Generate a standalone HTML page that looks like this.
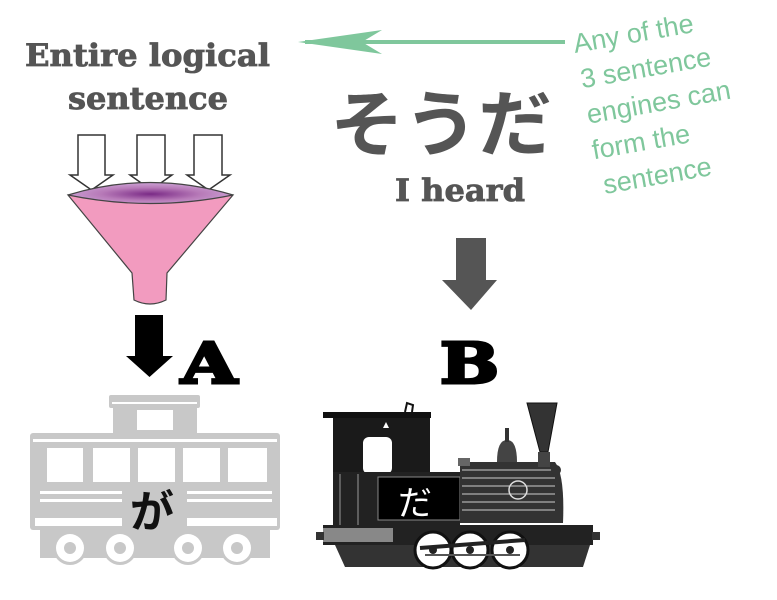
<!DOCTYPE html>
<html><head><meta charset="utf-8"><style>
html,body{margin:0;padding:0;background:#fff;}
svg{display:block;}
</style></head><body>
<svg width="777" height="600" viewBox="0 0 777 600" xmlns="http://www.w3.org/2000/svg">
<defs>
<radialGradient id="fg" cx="0.5" cy="0.55" r="0.5">
<stop offset="0" stop-color="#7a2a86"/><stop offset="0.6" stop-color="#b77ab8"/><stop offset="1" stop-color="#c99bd0"/>
</radialGradient>
</defs>
<g font-family="'DejaVu Serif','Liberation Serif',serif" font-weight="bold" fill="#555" stroke="#555" stroke-width="0.8">
<text x="25" y="66" font-size="31" textLength="245" lengthAdjust="spacingAndGlyphs">Entire logical</text>
<text x="68" y="109" font-size="31" textLength="160" lengthAdjust="spacingAndGlyphs">sentence</text>
<text x="395" y="201" font-size="31" textLength="130" lengthAdjust="spacingAndGlyphs">I heard</text>
</g>
<text x="330" y="150" font-family="'Noto Sans CJK JP',sans-serif" font-weight="bold" font-size="72" fill="#555" textLength="222" lengthAdjust="spacingAndGlyphs">そうだ</text>
<line x1="305" y1="42" x2="565" y2="42" stroke="#7fc79c" stroke-width="4"/>
<path d="M298 42 L382 30 L362 42 L382 54 Z" fill="#7fc79c"/>
<g transform="rotate(-10 575 53)" font-family="'Liberation Sans',sans-serif" font-size="27" fill="#7fc79c">
<text x="575" y="53">Any of the</text>
<text x="576" y="89">3 sentence</text>
<text x="576" y="125">engines can</text>
<text x="575" y="161">form the</text>
<text x="580" y="197">sentence</text>
</g>
<g fill="#fff" stroke="#333" stroke-width="1.5">
<path d="M78 135 H105 V175 H113 L91.5 190 L70 175 H78 Z"/>
<path d="M137 135 H165 V175 H172 L151 190 L130 175 H137 Z"/>
<path d="M194 135 H222 V175 H230 L208.5 190 L187 175 H194 Z"/>
</g>
<path d="M68 195 L132 273 L134 300 Q150 308 166 300 L167 273 L233 195 Z" fill="#f29bbf" stroke="#444" stroke-width="1.2"/>
<path d="M68 195 Q150 170 233 195 Q150 212 68 195 Z" fill="url(#fg)" stroke="#444" stroke-width="1.2"/>
<path d="M135 315 H163 V356 H173 L149.5 377 L126 356 H135 Z" fill="#000"/>
<g font-family="'DejaVu Serif','Liberation Serif',serif" font-weight="bold" fill="#000" stroke="#000" stroke-width="3">
<text x="181" y="383" font-size="56" textLength="56" lengthAdjust="spacingAndGlyphs">A</text>
<text x="440" y="383" font-size="56" textLength="59" lengthAdjust="spacingAndGlyphs">B</text>
</g>
<path d="M456 238 H486 V280 H497 L471 310 L442 280 H456 Z" fill="#555"/>
<g fill="#c8c8c8">
<rect x="109" y="395" width="91" height="13" rx="2"/>
<rect x="113" y="408" width="84" height="26"/>
<rect x="30" y="433" width="250" height="97" rx="3"/>
<rect x="40" y="528" width="230" height="30"/>
<circle cx="70" cy="548" r="17"/><circle cx="120" cy="548" r="17"/><circle cx="188" cy="548" r="17"/><circle cx="237" cy="548" r="17"/>
</g>
<g fill="#fff">
<rect x="112" y="402" width="85" height="2"/>
<rect x="137" y="410" width="36" height="20"/>
<rect x="33" y="439" width="244" height="3"/>
<rect x="47" y="448" width="36" height="34"/><rect x="93" y="448" width="37" height="34"/><rect x="138" y="448" width="37" height="34"/><rect x="183" y="448" width="37" height="34"/><rect x="228" y="448" width="39" height="34"/>
<rect x="40" y="491" width="82" height="3"/><rect x="187" y="491" width="85" height="3"/>
<rect x="40" y="499" width="82" height="3"/><rect x="187" y="499" width="85" height="3"/>
<rect x="35" y="518" width="87" height="8"/><rect x="187" y="518" width="90" height="8"/>
<circle cx="70" cy="548" r="14"/><circle cx="120" cy="548" r="14"/><circle cx="188" cy="548" r="14"/><circle cx="237" cy="548" r="14"/>
</g>
<g fill="#c8c8c8"><circle cx="70" cy="548" r="6"/><circle cx="120" cy="548" r="6"/><circle cx="188" cy="548" r="6"/><circle cx="237" cy="548" r="6"/></g>
<text x="130" y="527" font-family="'Noto Sans CJK JP',sans-serif" font-weight="bold" font-size="44" fill="#111">が</text>
<g>
<rect x="323" y="412" width="108" height="6" fill="#111"/>
<path d="M405 412 L407 403 L413 405 L412 412" fill="none" stroke="#111" stroke-width="2"/>
<rect x="333" y="418" width="97" height="56" fill="#1a1a1a"/>
<rect x="363" y="437" width="29" height="37" rx="6" fill="#fff"/>
<path d="M383 428 l3 -6 l3 6 z" fill="#fff"/>
<rect x="333" y="472" width="127" height="55" fill="#222"/>
<rect x="378" y="477" width="82" height="43" fill="#000" stroke="#888" stroke-width="1"/>
<line x1="340" y1="474" x2="340" y2="527" stroke="#999" stroke-width="1"/>
<line x1="358" y1="474" x2="358" y2="527" stroke="#999" stroke-width="1"/>
<text x="398" y="515" font-family="'Noto Sans CJK JP',sans-serif" font-size="34" fill="#fff">だ</text>
<path d="M460 462 H555 Q565 475 563 523 H460 Z" fill="#333"/>
<g stroke="#ccc" stroke-width="1">
<line x1="462" y1="470" x2="555" y2="470"/><line x1="462" y1="478" x2="555" y2="478"/><line x1="462" y1="486" x2="555" y2="486"/><line x1="462" y1="494" x2="555" y2="494"/><line x1="462" y1="502" x2="555" y2="502"/><line x1="462" y1="510" x2="555" y2="510"/>
</g>
<circle cx="518" cy="490" r="9" fill="none" stroke="#ddd" stroke-width="1.5"/>
<rect x="458" y="458" width="12" height="8" fill="#666"/>
<path d="M497 462 Q497 440 507 440 Q517 440 517 462 Z" fill="#444"/>
<rect x="505" y="428" width="4" height="14" fill="#333"/>
<path d="M527 403 H557 L548 452 H540 Z" fill="#333" stroke="#111"/>
<rect x="538" y="452" width="12" height="15" fill="#444"/>
<circle cx="556" cy="470" r="5" fill="#333"/>
<rect x="323" y="525" width="270" height="20" fill="#222"/>
<rect x="323" y="528" width="70" height="14" fill="#888"/>
<rect x="316" y="532" width="8" height="8" fill="#333"/><rect x="592" y="532" width="8" height="8" fill="#333"/>
<path d="M335 545 L345 567 H583 L590 545 Z" fill="#333"/>
<g fill="#fff" stroke="#111" stroke-width="3">
<circle cx="433" cy="550" r="18"/><circle cx="470" cy="550" r="18"/><circle cx="510" cy="550" r="18"/>
</g>
<g fill="#222"><circle cx="433" cy="550" r="4"/><circle cx="470" cy="550" r="4"/><circle cx="510" cy="550" r="4"/></g>
<line x1="420" y1="548" x2="525" y2="540" stroke="#222" stroke-width="4"/>
<line x1="425" y1="555" x2="520" y2="555" stroke="#555" stroke-width="2"/>
</g>
</svg>
</body></html>
